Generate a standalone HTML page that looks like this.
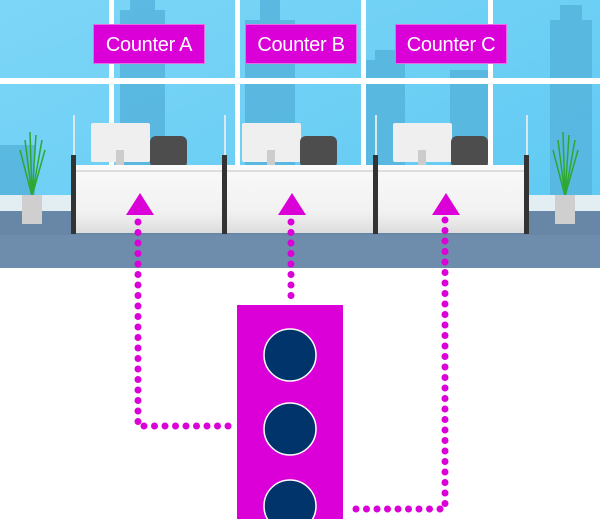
<!DOCTYPE html>
<html><head><style>
body{margin:0;width:600px;height:519px;background:#fff;overflow:hidden;position:relative;font-family:"Liberation Sans",sans-serif}
.a{position:absolute}
.lbl{position:absolute;top:24px;height:40px;width:112px;background:#dc00d8;color:#fff;font-size:20px;line-height:40px;text-align:center;border:1px solid #e86ae4;box-sizing:border-box;letter-spacing:-0.3px}
</style></head><body>
<svg class="a" style="left:0;top:0" width="600" height="519">
<defs><linearGradient id="sky" x1="0" y1="0" x2="1" y2="1"><stop offset="0" stop-color="#7dd6f7"/><stop offset="1" stop-color="#5cc8f2"/></linearGradient>
<linearGradient id="desk" x1="0" y1="0" x2="0" y2="1"><stop offset="0" stop-color="#fafafa"/><stop offset="0.7" stop-color="#f1f1f1"/><stop offset="1" stop-color="#dcdcdc"/></linearGradient></defs>
<rect x="0" y="0" width="600" height="268" fill="url(#sky)"/>
<g fill="#55b3dc" opacity="0.8">
<rect x="120" y="10" width="45" height="190"/><rect x="130" y="0" width="25" height="15"/>
<rect x="245" y="20" width="50" height="180"/><rect x="260" y="0" width="20" height="25"/>
<rect x="365" y="60" width="40" height="140"/><rect x="375" y="50" width="20" height="12"/>
<rect x="450" y="70" width="40" height="130"/>
<rect x="550" y="20" width="42" height="180"/><rect x="560" y="5" width="22" height="20"/>
<rect x="0" y="145" width="35" height="55"/>
</g>
<g fill="#fff"><rect x="109" y="0" width="5" height="200"/><rect x="235" y="0" width="5" height="200"/><rect x="361" y="0" width="5" height="200"/><rect x="488" y="0" width="5" height="200"/><rect x="0" y="78" width="600" height="6"/></g>
<rect x="0" y="195" width="600" height="16" fill="#e3eef3"/>
<rect x="0" y="211" width="600" height="57" fill="#6887a7"/>
<rect x="0" y="235" width="600" height="33" fill="#7390ae" opacity="0.6"/>
<g stroke="#2ea832" stroke-width="1.5" fill="none">
<path d="M32 196 L25 140 M32 196 L30 132 M32 196 L36 135 M32 196 L42 140 M32 196 L20 150 M32 196 L45 150"/>
<path d="M565 196 L558 140 M565 196 L563 132 M565 196 L569 135 M565 196 L575 140 M565 196 L553 150 M565 196 L578 150"/>
</g>
<rect x="22" y="195" width="20" height="29" fill="#cfcfcf"/><rect x="555" y="195" width="20" height="29" fill="#cfcfcf"/>
<g fill="#d8e8ee"><rect x="73" y="115" width="2" height="45"/><rect x="224" y="115" width="2" height="45"/><rect x="375" y="115" width="2" height="45"/><rect x="526" y="115" width="2" height="45"/></g>
<g>
<rect x="91" y="123" width="59" height="39" rx="2" fill="#efefef"/><rect x="116" y="150" width="8" height="16" fill="#ccc"/>
<rect x="150" y="136" width="37" height="32" rx="6" fill="#4d4d4d"/>
<rect x="242" y="123" width="59" height="39" rx="2" fill="#efefef"/><rect x="267" y="150" width="8" height="16" fill="#ccc"/>
<rect x="300" y="136" width="37" height="32" rx="6" fill="#4d4d4d"/>
<rect x="393" y="123" width="59" height="39" rx="2" fill="#efefef"/><rect x="418" y="150" width="8" height="16" fill="#ccc"/>
<rect x="451" y="136" width="37" height="32" rx="6" fill="#4d4d4d"/>
</g>
<rect x="75" y="165" width="452" height="68" fill="url(#desk)"/>
<rect x="75" y="170" width="452" height="2" fill="#ddd"/>
<g fill="#333"><rect x="71" y="155" width="5" height="79"/><rect x="222" y="155" width="5" height="79"/><rect x="373" y="155" width="5" height="79"/><rect x="524" y="155" width="5" height="79"/></g>
<g fill="#dc00d8"><polygon points="140,193 154,215 126,215"/><polygon points="292,193 306,215 278,215"/><polygon points="446,193 460,215 432,215"/></g>
<g stroke="#dc00d8" stroke-width="7" stroke-linecap="round" fill="none" stroke-dasharray="0 10.5">
<path d="M138 222 L138 426 L237 426"/>
<path d="M291 222 L291 300"/>
<path d="M445 220 L445 509 L348 509"/>
</g>
<rect x="237" y="305" width="106" height="214" fill="#dc00d8"/>
<g fill="#02346c" stroke="#fff" stroke-width="1.5"><circle cx="290" cy="355" r="26"/><circle cx="290" cy="429" r="26"/><circle cx="290" cy="506" r="26"/></g>
</svg>
<div class="lbl" style="left:93px">Counter A</div>
<div class="lbl" style="left:245px">Counter B</div>
<div class="lbl" style="left:395px">Counter C</div>
</body></html>
